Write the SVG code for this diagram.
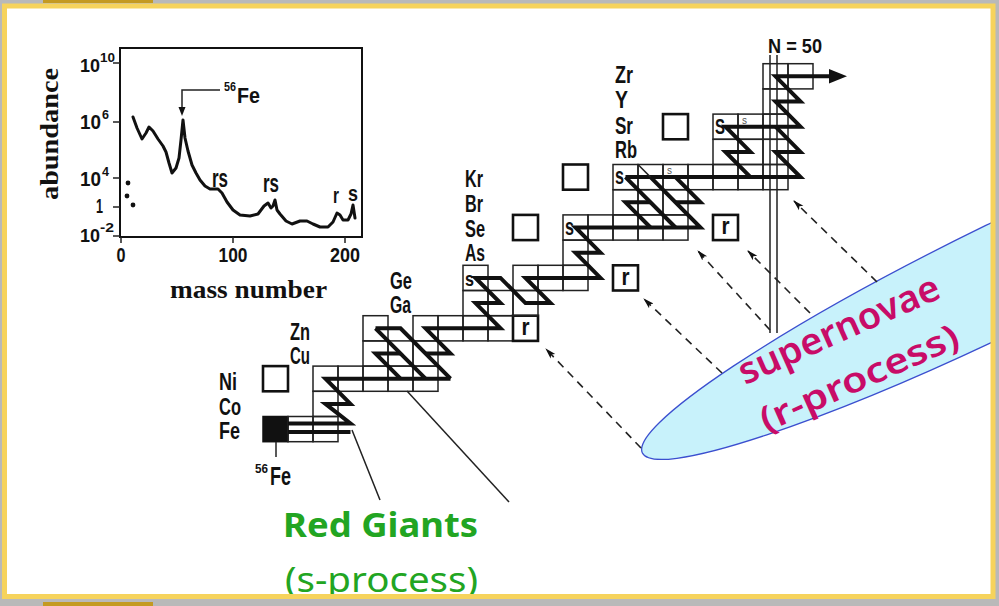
<svg xmlns="http://www.w3.org/2000/svg" width="999" height="606" viewBox="0 0 999 606">
<defs>
<style>
.lab{font-family:"Liberation Sans",Arial,sans-serif;font-weight:bold;fill:#111}
.ser{font-family:"Liberation Serif","Times New Roman",serif;font-weight:bold;fill:#111}
.cell{fill:none;stroke:#222;stroke-width:1.5}
.thk{fill:none;stroke:#111;stroke-width:2.6}
.pth{fill:none;stroke:#111;stroke-width:4;stroke-linejoin:miter;stroke-miterlimit:6}
.thin{fill:none;stroke:#222;stroke-width:1.5}
.dash{fill:none;stroke:#222;stroke-width:1.6;stroke-dasharray:8 6;marker-end:url(#ah)}
.cs{font-family:"Noto Sans","DejaVu Sans",sans-serif}
</style>
<marker id="ah" markerWidth="12" markerHeight="8" refX="10" refY="4" orient="auto" markerUnits="userSpaceOnUse">
<path d="M0,0.8 L11,4 L0,7.2 L2.5,4 z" fill="#111"/>
</marker>
<clipPath id="inner"><rect x="6" y="8" width="986" height="587"/></clipPath>
</defs>

<rect x="0" y="0" width="999" height="606" fill="#b9b9b9"/>
<rect x="4.5" y="6" width="988.5" height="590.5" fill="#ffffff"/>

<g clip-path="url(#inner)">
<!-- abundance plot -->
<g id="plot">
<rect x="120" y="48" width="242" height="189" fill="none" stroke="#111" stroke-width="2"/>
<path class="thin" d="M113,63H120M113,122H120M113,178H120M113,207H120M113,236H120M233,237V243M345,237V243M121,237V243"/>
<path fill="none" stroke="#111" stroke-width="3" stroke-linejoin="round" stroke-linecap="round" d="M133,117 L137,128 L142,139 L146,133 L149,127 L153,131 L158,139 L163,146 L166,152 L169,163 L172,173 L176,168 L179,158 L181,140 L183,120 L185,138 L188,151 L192,165 L196,173 L200,180 L205,186 L210,189 L218,189 L222,193 L227,202 L233,210 L240,215 L250,216 L258,214 L264,206 L268,203 L271,208 L273,206 L275,200 L277,210 L280,214 L286,221 L292,224 L300,221 L307,221 L313,224 L320,227 L328,227 L333,222 L337,213 L340,215 L343,220 L348,220 L351,214 L353,205 L355,218"/>
<circle cx="128" cy="183" r="2.4" fill="#111"/>
<circle cx="127" cy="196" r="2.4" fill="#111"/>
<circle cx="133" cy="205" r="2.4" fill="#111"/>
<path class="thin" d="M220,90H182V109"/>
<polygon points="178.5,107 185.5,107 182,116" fill="#111"/>
<text class="lab" x="224" y="91" font-size="12" textLength="12" lengthAdjust="spacingAndGlyphs">56</text>
<text class="lab" x="237" y="103" font-size="22" textLength="23" lengthAdjust="spacingAndGlyphs">Fe</text>
<text class="lab" x="212" y="187" font-size="26" textLength="16" lengthAdjust="spacingAndGlyphs">rs</text>
<text class="lab" x="263" y="192" font-size="26" textLength="16" lengthAdjust="spacingAndGlyphs">rs</text>
<text class="lab" x="333" y="203" font-size="22" textLength="6" lengthAdjust="spacingAndGlyphs">r</text>
<text class="lab" x="348" y="201" font-size="22" textLength="10" lengthAdjust="spacingAndGlyphs">s</text>
<text class="lab" x="80" y="72" font-size="19" textLength="20" lengthAdjust="spacingAndGlyphs">10</text>
<text class="lab" x="100" y="62" font-size="12" textLength="15" lengthAdjust="spacingAndGlyphs">10</text>
<text class="lab" x="80" y="129" font-size="20" textLength="21" lengthAdjust="spacingAndGlyphs">10</text>
<text class="lab" x="102" y="119" font-size="12" textLength="7" lengthAdjust="spacingAndGlyphs">6</text>
<text class="lab" x="80" y="186" font-size="20" textLength="21" lengthAdjust="spacingAndGlyphs">10</text>
<text class="lab" x="102" y="176" font-size="12" textLength="7" lengthAdjust="spacingAndGlyphs">4</text>
<text class="lab" x="96" y="213" font-size="20" textLength="7" lengthAdjust="spacingAndGlyphs">1</text>
<text class="lab" x="80" y="242" font-size="19" textLength="20" lengthAdjust="spacingAndGlyphs">10</text>
<text class="lab" x="100" y="232" font-size="12" textLength="14" lengthAdjust="spacingAndGlyphs">-2</text>
<text class="lab" x="121" y="262" font-size="21" text-anchor="middle" textLength="9" lengthAdjust="spacingAndGlyphs">0</text>
<text class="lab" x="233" y="262" font-size="21" text-anchor="middle" textLength="29" lengthAdjust="spacingAndGlyphs">100</text>
<text class="lab" x="345" y="262" font-size="21" text-anchor="middle" textLength="30" lengthAdjust="spacingAndGlyphs">200</text>
<text class="ser" transform="translate(58,134) rotate(-90)" font-size="25" text-anchor="middle" textLength="132" lengthAdjust="spacingAndGlyphs">abundance</text>
<text class="ser" x="170" y="298" font-size="25" textLength="157" lengthAdjust="spacingAndGlyphs">mass number</text>
</g>

<!-- supernovae ellipse -->
<g id="supernovae">
<ellipse cx="1010" cy="273.7" rx="409" ry="54" transform="rotate(-26 1010 273.7)" fill="#c8f2fb" stroke="#3b4fcf" stroke-width="1.3"/>
<text class="cs" transform="translate(844,341) rotate(-24)" font-size="37" font-weight="600" fill="#c80c68" text-anchor="middle" textLength="217" lengthAdjust="spacingAndGlyphs">supernovae</text>
<text class="cs" transform="translate(864,389) rotate(-24)" font-size="35" font-weight="600" fill="#c80c68" text-anchor="middle" textLength="214" lengthAdjust="spacingAndGlyphs">(r-process)</text>
</g>

<!-- red giants -->
<g id="redgiants">
<text class="cs" x="283" y="537" font-size="34" font-weight="bold" fill="#22a522" textLength="195" lengthAdjust="spacingAndGlyphs">Red Giants</text>
<text class="cs" x="285" y="592" font-size="34" fill="#22a522" textLength="193" lengthAdjust="spacingAndGlyphs">(s-process)</text>
</g>

<!-- chart cells -->
<g id="cells">
<rect x="263" y="416.5" width="25" height="25.2" fill="#111" stroke="#111" stroke-width="1.5"/>
<rect class="cell" x="288" y="416.5" width="25" height="25.2"/>
<rect class="cell" x="313" y="416.5" width="25" height="25.2"/>
<rect class="cell" x="313" y="391.3" width="25" height="25.2"/>
<rect class="thk" x="263" y="366.1" width="25" height="25.2"/>
<rect class="cell" x="313" y="366.1" width="25" height="25.2"/>
<rect class="cell" x="338" y="366.1" width="25" height="25.2"/>
<rect class="cell" x="363" y="366.1" width="25" height="25.2"/>
<rect class="cell" x="388" y="366.1" width="25" height="25.2"/>
<rect class="cell" x="413" y="366.1" width="25" height="25.2"/>
<rect class="cell" x="363" y="340.9" width="25" height="25.2"/>
<rect class="cell" x="388" y="340.9" width="25" height="25.2"/>
<rect class="cell" x="413" y="340.9" width="25" height="25.2"/>
<rect class="cell" x="363" y="315.7" width="25" height="25.2"/>
<rect class="cell" x="413" y="315.7" width="25" height="25.2"/>
<rect class="cell" x="438" y="315.7" width="25" height="25.2"/>
<rect class="cell" x="463" y="315.7" width="25" height="25.2"/>
<rect class="cell" x="488" y="315.7" width="25" height="25.2"/>
<rect class="thk" x="513" y="315.7" width="25" height="25.2"/>
<rect class="cell" x="463" y="290.5" width="25" height="25.2"/>
<rect class="cell" x="488" y="290.5" width="25" height="25.2"/>
<rect class="cell" x="513" y="290.5" width="25" height="25.2"/>
<rect class="cell" x="463" y="265.3" width="25" height="25.2"/>
<rect class="cell" x="513" y="265.3" width="25" height="25.2"/>
<rect class="cell" x="538" y="265.3" width="25" height="25.2"/>
<rect class="cell" x="563" y="265.3" width="25" height="25.2"/>
<rect class="thk" x="613" y="265.3" width="25" height="25.2"/>
<rect class="cell" x="563" y="240.1" width="25" height="25.2"/>
<rect class="thk" x="513" y="214.9" width="25" height="25.2"/>
<rect class="cell" x="563" y="214.9" width="25" height="25.2"/>
<rect class="cell" x="588" y="214.9" width="25" height="25.2"/>
<rect class="cell" x="613" y="214.9" width="25" height="25.2"/>
<rect class="cell" x="638" y="214.9" width="25" height="25.2"/>
<rect class="cell" x="663" y="214.9" width="25" height="25.2"/>
<rect class="thk" x="713" y="214.9" width="25" height="25.2"/>
<rect class="cell" x="613" y="189.7" width="25" height="25.2"/>
<rect class="cell" x="638" y="189.7" width="25" height="25.2"/>
<rect class="cell" x="663" y="189.7" width="25" height="25.2"/>
<rect class="thk" x="563" y="164.5" width="25" height="25.2"/>
<rect class="cell" x="613" y="164.5" width="25" height="25.2"/>
<rect class="cell" x="638" y="164.5" width="25" height="25.2"/>
<rect class="cell" x="663" y="164.5" width="25" height="25.2"/>
<rect class="cell" x="688" y="164.5" width="25" height="25.2"/>
<rect class="cell" x="713" y="164.5" width="25" height="25.2"/>
<rect class="cell" x="738" y="164.5" width="25" height="25.2"/>
<rect class="cell" x="763" y="164.5" width="25" height="25.2"/>
<rect class="cell" x="713" y="139.3" width="25" height="25.2"/>
<rect class="cell" x="738" y="139.3" width="25" height="25.2"/>
<rect class="cell" x="763" y="139.3" width="25" height="25.2"/>
<rect class="thk" x="663" y="114.1" width="25" height="25.2"/>
<rect class="cell" x="713" y="114.1" width="25" height="25.2"/>
<rect class="cell" x="738" y="114.1" width="25" height="25.2"/>
<rect class="cell" x="763" y="114.1" width="25" height="25.2"/>
<rect class="cell" x="763" y="88.9" width="25" height="25.2"/>
<rect class="cell" x="763" y="63.7" width="25" height="25.2"/>
<rect class="cell" x="788" y="63.7" width="25" height="25.2"/>
<path class="thin" stroke-width="1.2" d="M770,55V333M777,55V333"/>
<path class="thin" stroke-width="1.2" d="M276,442V457"/>
</g>

<!-- cell marks and element labels -->
<g id="labels">
<text class="lab" x="465" y="285.5" font-size="21" textLength="9" lengthAdjust="spacingAndGlyphs">s</text>
<text class="lab" x="565" y="235" font-size="24" textLength="9" lengthAdjust="spacingAndGlyphs">s</text>
<text class="lab" x="615" y="184" font-size="24" textLength="9" lengthAdjust="spacingAndGlyphs">s</text>
<text class="lab" x="715" y="134" font-size="22" textLength="10" lengthAdjust="spacingAndGlyphs">S</text>
<text x="667" y="174" font-size="11" font-family="Liberation Sans,sans-serif" fill="#555" textLength="5" lengthAdjust="spacingAndGlyphs">s</text>
<text x="742" y="124" font-size="11" font-family="Liberation Sans,sans-serif" fill="#555" textLength="5" lengthAdjust="spacingAndGlyphs">s</text>
<text class="lab" x="525.5" y="335" font-size="24" text-anchor="middle" textLength="8" lengthAdjust="spacingAndGlyphs">r</text>
<text class="lab" x="625.5" y="285" font-size="24" text-anchor="middle" textLength="8" lengthAdjust="spacingAndGlyphs">r</text>
<text class="lab" x="725.5" y="234" font-size="24" text-anchor="middle" textLength="8" lengthAdjust="spacingAndGlyphs">r</text>
<text class="lab" x="219" y="439" font-size="23" textLength="21" lengthAdjust="spacingAndGlyphs">Fe</text>
<text class="lab" x="219" y="415" font-size="23" textLength="22" lengthAdjust="spacingAndGlyphs">Co</text>
<text class="lab" x="219" y="390" font-size="23" textLength="18" lengthAdjust="spacingAndGlyphs">Ni</text>
<text class="lab" x="290" y="364" font-size="23" textLength="20" lengthAdjust="spacingAndGlyphs">Cu</text>
<text class="lab" x="290" y="340" font-size="23" textLength="20" lengthAdjust="spacingAndGlyphs">Zn</text>
<text class="lab" x="390" y="313" font-size="23" textLength="21" lengthAdjust="spacingAndGlyphs">Ga</text>
<text class="lab" x="390" y="289" font-size="23" textLength="22" lengthAdjust="spacingAndGlyphs">Ge</text>
<text class="lab" x="465" y="261" font-size="23" textLength="20" lengthAdjust="spacingAndGlyphs">As</text>
<text class="lab" x="465" y="237" font-size="23" textLength="20" lengthAdjust="spacingAndGlyphs">Se</text>
<text class="lab" x="465" y="212" font-size="23" textLength="18" lengthAdjust="spacingAndGlyphs">Br</text>
<text class="lab" x="465" y="187" font-size="23" textLength="18" lengthAdjust="spacingAndGlyphs">Kr</text>
<text class="lab" x="615" y="158" font-size="23" textLength="22" lengthAdjust="spacingAndGlyphs">Rb</text>
<text class="lab" x="615" y="134" font-size="23" textLength="18" lengthAdjust="spacingAndGlyphs">Sr</text>
<text class="lab" x="615" y="108" font-size="23" textLength="13" lengthAdjust="spacingAndGlyphs">Y</text>
<text class="lab" x="615" y="83" font-size="23" textLength="18" lengthAdjust="spacingAndGlyphs">Zr</text>
<text class="lab" x="768" y="53" font-size="20" textLength="54" lengthAdjust="spacingAndGlyphs">N = 50</text>
<text class="lab" x="255" y="473" font-size="13" textLength="13" lengthAdjust="spacingAndGlyphs">56</text>
<text class="lab" x="270" y="485" font-size="25" textLength="21" lengthAdjust="spacingAndGlyphs">Fe</text>
</g>

<!-- s-process path -->
<g id="path">
<path class="pth" d="M288,423.5H350.5L325.5,403.9H350.5L325.5,378.7H450.5"/>
<path class="pth" d="M288,432H350.5"/>
<path class="pth" d="M400.5,378.7L375.5,353.5H400.5"/>
<path class="pth" d="M375.5,328.3L425.5,378.7"/>
<path class="pth" d="M375.5,328.3H400.5L450.5,378.7"/>
<path class="pth" d="M425.5,353.5H450.5L425.5,328.3H500.5L475.5,303.1H500.5L475.5,277.9H500.5L525.5,303.1H550.5L525.5,277.9H600.5L575.5,252.7H600.5L575.5,227.5H700.5L650.5,177.1"/>
<path class="pth" d="M650.5,227.5L625.5,202.3H650.5"/>
<path class="pth" d="M625.5,177.1L675.5,227.5"/>
<path class="pth" d="M675.5,202.3H700.5L675.5,177.1"/>
<path class="pth" d="M625.5,177.1H800.5L775.5,151.9H800.5L775.5,126.7"/>
<path class="pth" d="M750.5,177.1L725.5,151.9H750.5L725.5,126.7H800.5L775.5,101.5H800.5L775.5,76.3H832"/>
<polygon points="829,69 847,76.3 829,83.6" fill="#111"/>
<path class="thin" stroke-width="1.2" d="M638,164.5L650.5,177.1"/>
</g>

<!-- connectors -->
<g id="connectors">
<path class="thin" d="M352,430L380,500"/>
<path class="thin" d="M407,391L509,502"/>
<path class="dash" d="M641,448L546,349"/>
<path class="dash" d="M722,373L644,299"/>
<path class="dash" d="M770,330L698,251"/>
<path class="dash" d="M810,313L748,251"/>
<path class="dash" d="M877,282L794,201"/>
</g>
</g>

<!-- frame -->
<rect x="4.5" y="6" width="988.5" height="590.5" fill="none" stroke="#f6d35c" stroke-width="5"/>
<rect x="43" y="0" width="110" height="3" fill="#c49a22"/>
<rect x="43" y="602" width="110" height="4" fill="#c49a22"/>
</svg>
